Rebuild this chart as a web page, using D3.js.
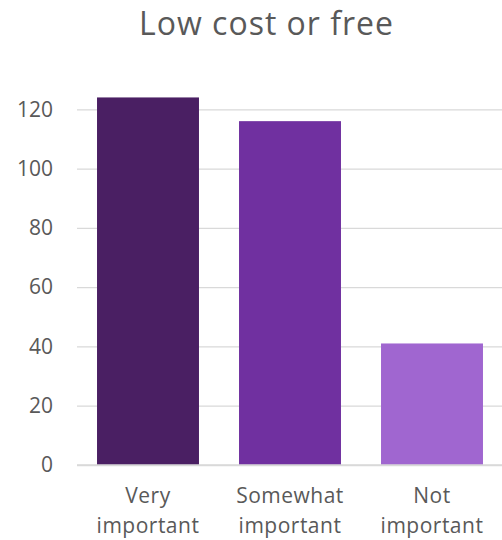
<!DOCTYPE html>
<html><head><meta charset="utf-8">
<script src="https://cdn.jsdelivr.net/npm/d3@7"></script>
<style>body{margin:0;background:#fff;} svg{display:block;}</style>
</head><body>
<svg id="chart" width="502" height="540"></svg>
<script>
const title = "Low cost or free";
const categories = [["Very", "important"], ["Somewhat", "important"], ["Not", "important"]];
const values = [124, 116, 41];
const colors = ["#4A1F63", "#7030A0", "#A066D0"];
const yTicks = [0, 20, 40, 60, 80, 100, 120];

(function() {
const svg = d3.select("#chart");
const font = "'Open Sans', sans-serif";
const textColor = "#595959";
const pLeft = 77, pRight = 503, pTop = 109.3, pBottom = 465;

const x = d3.scaleBand().domain(d3.range(values.length)).range([pLeft, pRight])
  .paddingInner(0.282).paddingOuter(0.141);
const y = d3.scaleLinear().domain([0, 120]).range([pBottom, pTop]);

svg.append("text").attr("x", 266.5).attr("y", 35).attr("text-anchor", "middle")
  .attr("font-family", font).attr("font-size", 32).attr("letter-spacing", 1)
  .attr("fill", textColor).text(title);

const yAxis = svg.append("g").attr("transform", `translate(${pLeft},0)`)
  .call(d3.axisLeft(y).tickValues(yTicks).tickSize(-(pRight - pLeft)).tickPadding(24));
yAxis.select(".domain").remove();
yAxis.selectAll(".tick line").attr("stroke", "#d9d9d9").attr("stroke-width", 1.3);
yAxis.selectAll(".tick text").attr("font-family", font).attr("font-size", 21)
  .attr("fill", textColor);

svg.append("g").selectAll("rect").data(values).join("rect")
  .attr("x", (d, i) => x(i)).attr("width", x.bandwidth())
  .attr("y", d => y(d)).attr("height", d => y(0) - y(d))
  .attr("fill", (d, i) => colors[i]);

svg.append("line").attr("x1", pLeft).attr("x2", pRight).attr("y1", y(0)).attr("y2", y(0))
  .attr("stroke", "#d9d9d9").attr("stroke-width", 1.3);

const xl = svg.append("g").selectAll("text").data(categories).join("text")
  .attr("x", (d, i) => x(i) + x.bandwidth() / 2).attr("y", 503)
  .attr("text-anchor", "middle").attr("font-family", font).attr("font-size", 21)
  .attr("letter-spacing", 0.5).attr("fill", textColor);
xl.selectAll("tspan").data(d => d).join("tspan")
  .attr("x", function() { return this.parentNode.getAttribute("x"); })
  .attr("dy", (d, i) => i === 0 ? 0 : 30).text(d => d);
})();
</script>
</body></html>
